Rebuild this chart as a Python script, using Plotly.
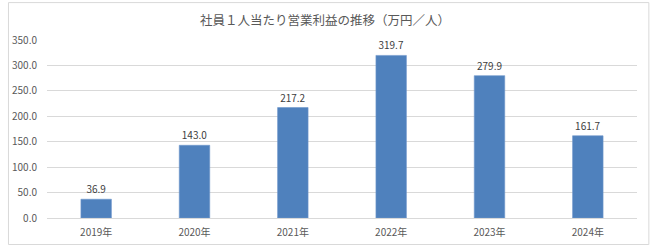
import plotly.graph_objects as go

years = ["2019年", "2020年", "2021年", "2022年", "2023年", "2024年"]
values = [36.9, 143.0, 217.2, 319.7, 279.9, 161.7]
title_text = "社員１人当たり営業利益の推移（万円／人）"

W, H = 650, 251
ml, mr, mt, mb = 40, 13, 39.5, 28.3
pw, ph = W - ml - mr, H - mt - mb

font_family = "Noto Sans CJK JP, Noto Sans, sans-serif"

fig = go.Figure(go.Bar(
    x=years, y=values,
    marker=dict(color="#4F81BD", line=dict(color="#6E97CB", width=0.6)),
    text=[f"{v:.1f}" for v in values],
    textposition="outside",
    textfont=dict(size=10, color="#404040", family=font_family),
    cliponaxis=False,
    width=0.31,
))

fig.update_layout(
    width=W, height=H,
    margin=dict(l=ml, r=mr, t=mt, b=mb, pad=0),
    paper_bgcolor="white", plot_bgcolor="white",
    font=dict(family=font_family, size=10, color="#595959"),
    title=dict(text=title_text, x=0.5, xanchor="center", y=1 - 21 / H, yanchor="middle",
               font=dict(size=12.5, color="#595959", family=font_family)),
    showlegend=False,
    xaxis=dict(showgrid=False, showline=False, ticks="", tickfont=dict(size=10, color="#595959"),
               ticklabelstandoff=7),
    yaxis=dict(range=[0, 350], dtick=50, tickformat=".1f", showgrid=True, gridcolor="#D9D9D9",
               gridwidth=1, zeroline=True, zerolinecolor="#D9D9D9", zerolinewidth=1,
               showline=False, ticks="", tickfont=dict(size=10, color="#595959"),
               ticklabelstandoff=9),
    shapes=[dict(type="rect", xref="paper", yref="paper",
                 x0=(1 - ml) / pw, x1=(W - 1 - ml) / pw,
                 y0=-(H - 1 - mt - ph) / ph, y1=(mt + ph - 1) / ph,
                 line=dict(color="#D9D9D9", width=1), layer="below")],
)

fig.write_html("out.html")
